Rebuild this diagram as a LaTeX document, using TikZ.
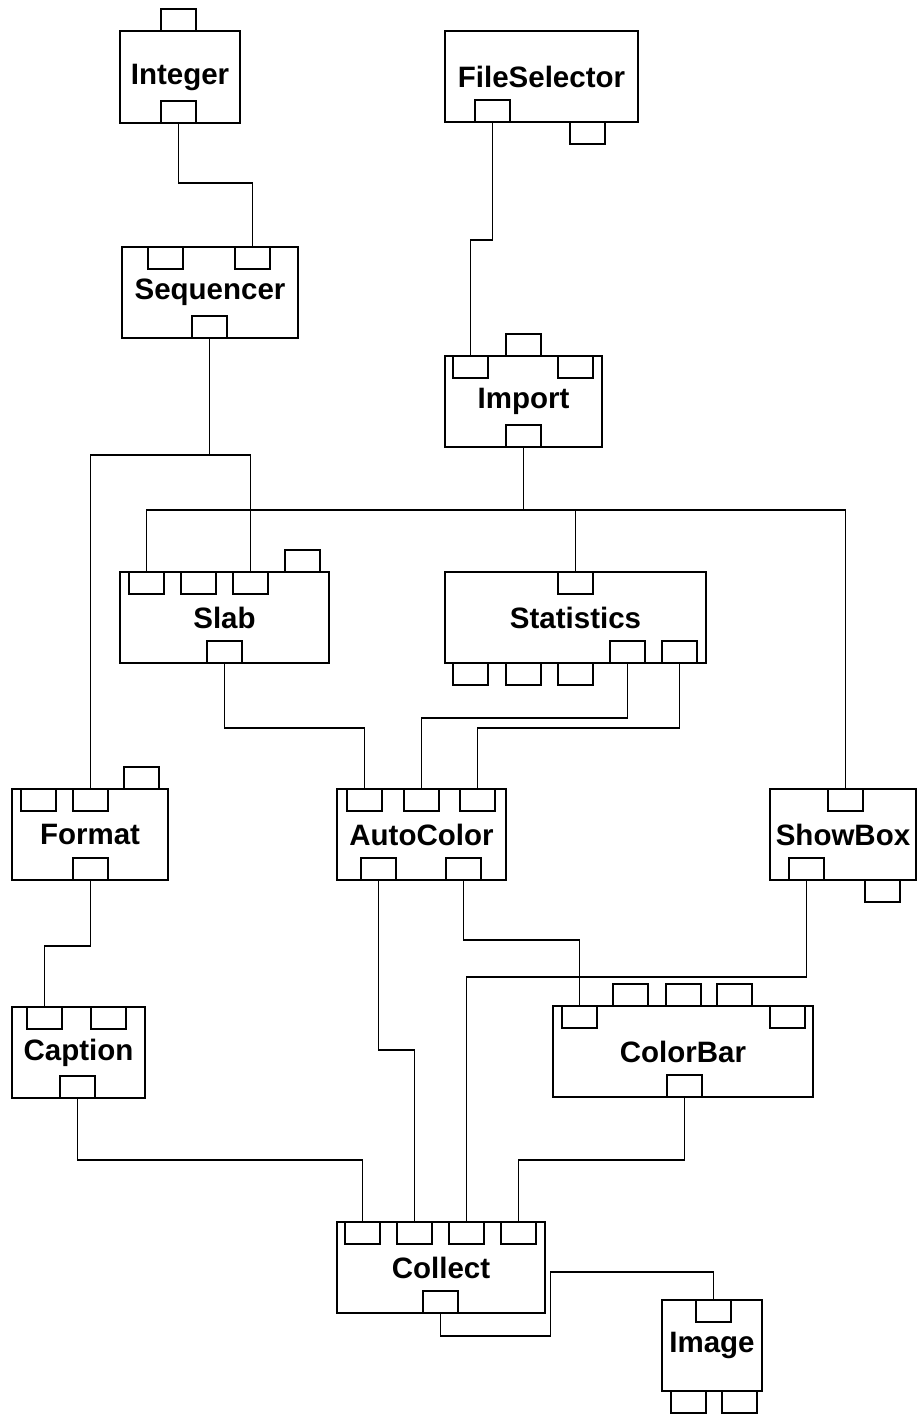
\documentclass[tikz,border=0pt]{standalone}
\usepackage{fontspec}
\setmainfont{Liberation Sans}
\begin{document}
\begin{tikzpicture}[x=1pt,y=-1pt,
  box/.style={draw, line width=1.9pt, inner sep=0pt, outer sep=0pt, anchor=north west, font=\bfseries\fontsize{29.5}{32}\selectfont},
  prt/.style={draw, fill=white, line width=1.9pt, inner sep=0pt, outer sep=0pt, minimum width=35pt, minimum height=22pt, anchor=north west},
  wire/.style={line width=1.7pt}]
\useasboundingbox (0,0) rectangle (919,1414);
\newcommand\blk[6]{\node[box, minimum width=#4pt, minimum height=#5pt] (#1) at (#2,#3) {#6};}
\newcommand\prt[3]{\node[prt] (#1) at (#2,#3) {};}
% boxes
\blk{integer}{120}{31}{120}{92}{Integer}
\blk{filesel}{445}{31}{193}{91}{FileSelector}
\blk{seq}{122}{247}{176}{91}{Sequencer}
\blk{import}{445}{356}{157}{91}{Import}
\blk{slab}{120}{572}{209}{91}{Slab}
\blk{stats}{445}{572}{261}{91}{Statistics}
\blk{format}{12}{789}{156}{91}{Format}
\blk{autocolor}{337}{789}{169}{91}{AutoColor}
\blk{showbox}{770}{789}{146}{91}{ShowBox}
\blk{caption}{12}{1007}{133}{91}{Caption}
\blk{colorbar}{553}{1006}{260}{91}{ColorBar}
\blk{collect}{337}{1222}{208}{91}{Collect}
\blk{image}{662}{1300}{100}{91}{Image}
% ports
\prt{it1}{161}{9}\prt{ib}{161}{101}
\prt{fs1}{475}{100}\prt{fs2}{570}{122}
\prt{sq1}{148}{247}\prt{sq2}{235}{247}\prt{sq3}{192}{316}
\prt{im0}{506}{334}\prt{im1}{453}{356}\prt{im2}{558}{356}\prt{im4}{506}{425}
\prt{sl1}{129}{572}\prt{sl2}{181}{572}\prt{sl3}{233}{572}\prt{sl4}{285}{550}\prt{sl5}{207}{641}
\prt{st1}{558}{572}\prt{st5}{610}{641}\prt{st6}{662}{641}
\prt{st2}{453}{663}\prt{st3}{506}{663}\prt{st4}{558}{663}
\prt{fm1}{21}{789}\prt{fm2}{73}{789}\prt{fm3}{124}{767}\prt{fm4}{73}{858}
\prt{ac1}{347}{789}\prt{ac2}{404}{789}\prt{ac3}{460}{789}\prt{ac4}{361}{858}\prt{ac5}{446}{858}
\prt{sb1}{828}{789}\prt{sb3}{789}{858}\prt{sb2}{865}{880}
\prt{cp1}{27}{1007}\prt{cp2}{91}{1007}\prt{cp3}{60}{1076}
\prt{cb1}{562}{1006}\prt{cb5}{770}{1006}\prt{cb2}{613}{984}\prt{cb3}{666}{984}\prt{cb4}{717}{984}\prt{cb6}{667}{1075}
\prt{col1}{345}{1222}\prt{col2}{397}{1222}\prt{col3}{449}{1222}\prt{col4}{501}{1222}\prt{col5}{423}{1291}
\prt{img1}{696}{1300}\prt{img2}{671}{1391}\prt{img3}{722}{1391}
% junctions
\coordinate (j1) at (209.5,455);
\coordinate (j2) at (523.5,510);
% connectors
\draw[wire] (ib.south) -- ++(0,60) -| (sq2.north);
\draw[wire] (fs1.south) -- ++(0,118) -| (im1.north);
\draw[wire] (sq3.south) -- (j1);
\draw[wire] (fm2.north) |- (j1) -| (sl3.north);
\draw[wire] (im4.south) -- (j2);
\draw[wire] (sl1.north) |- (j2) -| (sb1.north);
\draw[wire] (j2) -| (st1.north);
\draw[wire] (sl5.south) -- ++(0,65) -| (ac1.north);
\draw[wire] (st5.south) -- ++(0,55) -| (ac2.north);
\draw[wire] (st6.south) -- ++(0,65) -| (ac3.north);
\draw[wire] (fm4.south) -- ++(0,66) -| (cp1.north);
\draw[wire] (ac5.south) -- ++(0,60) -| (cb1.north);
\draw[wire] (ac4.south) -- ++(0,170) -| (col2.north);
\draw[wire] (sb3.south) -- ++(0,97) -| (col3.north);
\draw[wire] (cp3.south) -- ++(0,62) -| (col1.north);
\draw[wire] (cb6.south) -- ++(0,63) -| (col4.north);
\draw[wire] (col5.south) -- ++(0,23) -| ++(110,-64) -| (img1.north);
\end{tikzpicture}
\end{document}
